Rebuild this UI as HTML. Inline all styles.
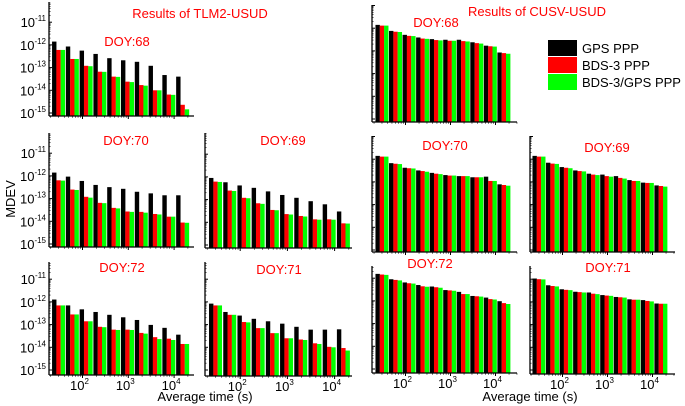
<!DOCTYPE html>
<html><head><meta charset="utf-8"><style>
html,body{margin:0;padding:0;background:#fff;}
svg{display:block;font-family:"Liberation Sans",Arial,sans-serif;}
</style></head><body>
<svg id="fig" width="685" height="406" viewBox="0 0 685 406" xmlns="http://www.w3.org/2000/svg">
<text x="200" y="18" font-size="13" fill="#f00" text-anchor="middle">Results of TLM2-USUD</text>
<text x="537" y="16" font-size="13" fill="#f00" text-anchor="middle">Results of CUSV-USUD</text>
<text transform="translate(15,199) rotate(-90)" font-size="13" text-anchor="middle">MDEV</text>
<text x="205" y="401" font-size="13" text-anchor="middle">Average time (s)</text>
<text x="530" y="401" font-size="13" text-anchor="middle">Average time (s)</text>
<g>
<rect x="548" y="40" width="29" height="16" fill="#000"/>
<rect x="548" y="57" width="29" height="16" fill="#f00"/>
<rect x="548" y="74" width="29" height="16" fill="#0f0"/>
<text x="582" y="53" font-size="13">GPS PPP</text>
<text x="582" y="70" font-size="13">BDS-3 PPP</text>
<text x="582" y="87" font-size="13">BDS-3/GPS PPP</text>
</g>
</svg>
<script>
const taus=[30,60,120,240,480,960,1920,3840,7680,15360];
const xTickLabels=["2","3","4"];
const yTickExps=["-11","-12","-13","-14","-15"];
const seriesColors=["#000","#f00","#0f0"];
// values per panel: GPS, BDS-3, BDS-3/GPS
const tlm68Gps=[1.4e-12,8.5e-13,5.6e-13,4e-13,2.6e-13,2.1e-13,1.8e-13,1.2e-13,4.7e-14,4e-14];
const tlm68Bds=[6e-13,2.4e-13,1.2e-13,6.6e-14,4e-14,2.4e-14,1.7e-14,1e-14,6.5e-15,2.3e-15];
const tlm68Mix=[6e-13,2.4e-13,1.15e-13,6.5e-14,3.9e-14,2.3e-14,1.6e-14,1e-14,6.3e-15,1.45e-15];
const tlm70Gps=[1.4e-12,9.3e-13,6e-13,4e-13,3.2e-13,2.7e-13,2e-13,1.7e-13,1.4e-13,1.4e-13];
const tlm70Bds=[6.4e-13,2.5e-13,1.2e-13,6.5e-14,3.9e-14,2.7e-14,2.6e-14,2.1e-14,1.6e-14,8.8e-15];
const tlm70Mix=[6.2e-13,2.4e-13,1.1e-13,6.3e-14,3.7e-14,2.6e-14,2.4e-14,2e-14,1.6e-14,8.6e-15];
const tlm69Gps=[9e-13,5.8e-13,4.2e-13,3.3e-13,2.3e-13,1.6e-13,1.2e-13,8.5e-14,6.2e-14,3e-14];
const tlm69Bds=[6.2e-13,2.5e-13,1.2e-13,6.9e-14,3.5e-14,2.3e-14,1.9e-14,1.35e-14,1.35e-14,9e-15];
const tlm69Mix=[6e-13,2.4e-13,1.15e-13,6.5e-14,3.4e-14,2.2e-14,1.8e-14,1.3e-14,1.3e-14,8.8e-15];
const tlm72Gps=[1.27e-12,7e-13,4.7e-13,3.6e-13,2.7e-13,2.1e-13,1.6e-13,9.7e-14,7.2e-14,3.6e-14];
const tlm72Bds=[7e-13,2.8e-13,1.4e-13,8e-14,6e-14,6e-14,4.3e-14,2.8e-14,2.4e-14,1.4e-14];
const tlm72Mix=[7e-13,2.8e-13,1.4e-13,7.7e-14,5.8e-14,5.8e-14,4e-14,2.3e-14,2.1e-14,1.4e-14];
const tlm71Gps=[8.4e-13,3.6e-13,2.5e-13,1.8e-13,1.4e-13,1.1e-13,8e-14,6e-14,6e-14,6.2e-14];
const tlm71Bds=[7e-13,2.7e-13,1.3e-13,7e-14,4.2e-14,2.5e-14,2.2e-14,1.5e-14,1.05e-14,9.3e-15];
const tlm71Mix=[7e-13,2.7e-13,1.25e-13,7e-14,4.2e-14,2.5e-14,2.1e-14,1.4e-14,1e-14,7.2e-15];
const cus68Gps=[1.4e-11,7.6e-12,5.1e-12,3.9e-12,3.3e-12,3.1e-12,3.1e-12,2.4e-12,1.7e-12,8.5e-13];
const cus68Bds=[1.3e-11,7e-12,4.6e-12,3.5e-12,3e-12,2.8e-12,2.7e-12,2.2e-12,1.6e-12,8e-13];
const cus68Mix=[1.3e-11,6.8e-12,4.5e-12,3.4e-12,2.9e-12,2.8e-12,2.6e-12,2.1e-12,1.55e-12,7.5e-13];
const cus70Gps=[1.4e-11,6.7e-12,4.2e-12,3.2e-12,2.5e-12,2e-12,1.8e-12,1.6e-12,1.7e-12,7.8e-13];
const cus70Bds=[1.3e-11,6.3e-12,4e-12,3e-12,2.3e-12,1.9e-12,1.8e-12,1.6e-12,1.1e-12,7.3e-13];
const cus70Mix=[1.3e-11,6.1e-12,3.9e-12,2.8e-12,2.2e-12,1.9e-12,1.8e-12,1.6e-12,1.1e-12,6.8e-13];
const cus69Gps=[1.4e-11,7e-12,4.5e-12,3.2e-12,2.3e-12,2.1e-12,1.8e-12,1.2e-12,9.3e-13,7e-13];
const cus69Bds=[1.3e-11,6.4e-12,4.2e-12,3e-12,2.1e-12,1.8e-12,1.5e-12,1.1e-12,9e-13,6.6e-13];
const cus69Mix=[1.3e-11,6.2e-12,4e-12,2.9e-12,2e-12,1.7e-12,1.4e-12,1.1e-12,9e-13,6.2e-13];
const cus72Gps=[1.55e-11,9e-12,6.5e-12,5e-12,4.3e-12,3e-12,2.5e-12,1.65e-12,1.4e-12,9.7e-13];
const cus72Bds=[1.45e-11,8.4e-12,6e-12,4.4e-12,4e-12,2.9e-12,2e-12,1.6e-12,1.2e-12,8e-13];
const cus72Mix=[1.4e-11,8e-12,5.8e-12,4.2e-12,3.8e-12,2.8e-12,2e-12,1.55e-12,1.15e-12,7.3e-13];
const cus71Gps=[1.07e-11,5.4e-12,3.6e-12,2.8e-12,2.6e-12,2e-12,1.65e-12,1.3e-12,1.2e-12,8.5e-13];
const cus71Bds=[1e-11,5e-12,3.4e-12,2.7e-12,2.3e-12,1.9e-12,1.6e-12,1.25e-12,1.1e-12,8.3e-13];
const cus71Mix=[9.8e-12,4.8e-12,3.3e-12,2.6e-12,2.2e-12,1.85e-12,1.55e-12,1.25e-12,1.05e-12,8.3e-13];

const panels=[
 {id:"tlm-doy68",label:"DOY:68",lx:127,ly:46,x0:49,x1:194,x100:82.5,dec:45.8,y15:113,axisY:116,top:2,yl:true,xl:false,s:[tlm68Gps,tlm68Bds,tlm68Mix]},
 {id:"tlm-doy70",label:"DOY:70",lx:126,ly:145,x0:49,x1:194,x100:82.5,dec:45.8,y15:244,axisY:247,top:133,yl:true,xl:false,s:[tlm70Gps,tlm70Bds,tlm70Mix]},
 {id:"tlm-doy69",label:"DOY:69",lx:283,ly:145,x0:205,x1:352,x100:240.2,dec:47.2,y15:245,axisY:248,top:133,yl:false,xl:false,s:[tlm69Gps,tlm69Bds,tlm69Mix]},
 {id:"tlm-doy72",label:"DOY:72",lx:122,ly:272,x0:49,x1:194,x100:82.5,dec:45.8,y15:370,axisY:375,top:262,yl:true,xl:true,s:[tlm72Gps,tlm72Bds,tlm72Mix]},
 {id:"tlm-doy71",label:"DOY:71",lx:279,ly:274,x0:205,x1:352,x100:240.2,dec:47.2,y15:370,axisY:376,top:262,yl:false,xl:true,s:[tlm71Gps,tlm71Bds,tlm71Mix]},
 {id:"cusv-doy68",label:"DOY:68",lx:436,ly:27,x0:372,x1:517,x100:405.5,dec:45,y15:119,axisY:122,top:5,yl:false,xl:false,s:[cus68Gps,cus68Bds,cus68Mix]},
 {id:"cusv-doy70",label:"DOY:70",lx:445,ly:150,x0:372,x1:517,x100:405.5,dec:45,y15:250,axisY:252,top:136,yl:false,xl:false,s:[cus70Gps,cus70Bds,cus70Mix]},
 {id:"cusv-doy69",label:"DOY:69",lx:607,ly:152,x0:530,x1:675,x100:562.5,dec:45,y15:250,axisY:252,top:136,yl:false,xl:false,s:[cus69Gps,cus69Bds,cus69Mix]},
 {id:"cusv-doy72",label:"DOY:72",lx:430,ly:268,x0:372,x1:517,x100:405.5,dec:45,y15:369,axisY:373,top:266,yl:false,xl:true,s:[cus72Gps,cus72Bds,cus72Mix]},
 {id:"cusv-doy71",label:"DOY:71",lx:608,ly:272,x0:530,x1:675,x100:562.5,dec:45,y15:370,axisY:374,top:266,yl:false,xl:true,s:[cus71Gps,cus71Bds,cus71Mix]}
];
const NS="http://www.w3.org/2000/svg";
const svg=document.getElementById("fig");
function mk(tag,attrs,parent){const e=document.createElementNS(NS,tag);for(const k in attrs)e.setAttribute(k,attrs[k]);parent.appendChild(e);return e;}
const YDEC=22.7;
panels.forEach(p=>{
 const g=mk("g",{},svg);
 
 
 const xs=t=>p.x100+(Math.log10(t)-2)*p.dec;
 const ys=v=>p.y15-(Math.log10(v)+15)*YDEC;
 const offs=[-6.5,-2.2,2.1];
 p.s.forEach((ser,si)=>{
  ser.forEach((v,i)=>{
   const cx=xs(taus[i]);const yt=ys(v);
   const r=mk("rect",{x:(cx+offs[si]).toFixed(2),y:yt.toFixed(2),width:4.4,height:Math.max(0,p.axisY-yt).toFixed(2),fill:seriesColors[si]},g);
   
   
  });
 });
 // axes
 const ya=mk("line",{x1:p.x0,y1:p.top,x2:p.x0,y2:p.axisY,stroke:"#000","stroke-width":1.3},g);
 
 
 const xa=mk("line",{x1:p.x0,y1:p.axisY,x2:p.x1,y2:p.axisY,stroke:"#000","stroke-width":1.3},g);
 
 
 // y ticks
 for(let e=-15;e<=-10;e++){
  const y=ys(Math.pow(10,e));
  if(y>=p.top-1&&y<=p.axisY){mk("line",{x1:p.x0,y1:y,x2:p.x0+3,y2:y,stroke:"#000","stroke-width":1},g);}
  for(let m=2;m<10;m++){const ym=ys(m*Math.pow(10,e));if(ym>=p.top&&ym<=p.axisY)mk("line",{x1:p.x0,y1:ym,x2:p.x0+1.6,y2:ym,stroke:"#000","stroke-width":0.6},g);}
 }
 if(p.yl){
  yTickExps.forEach(ex=>{
   const y=ys(Math.pow(10,+ex));
   const t=mk("text",{x:p.x0-3,y:y+5,"font-size":13,"text-anchor":"end"},g);
   
   
   t.textContent="10";
   const sp=mk("tspan",{"font-size":8,dy:-6},t);sp.textContent=ex;
  });
 }
 // x ticks
 for(let e=1;e<=5;e++){
  for(let m=1;m<10;m++){const x=xs(m*Math.pow(10,e));if(x<p.x0||x>p.x1)continue;
   mk("line",{x1:x,y1:p.axisY,x2:x,y2:p.axisY+(m==1?3:1.8),stroke:"#000","stroke-width":m==1?1:0.6},g);}
 }
 if(p.xl){
  xTickLabels.forEach(ex=>{
   const x=xs(Math.pow(10,+ex));
   const t=mk("text",{x:x-3,y:p.axisY+15,"font-size":13,"text-anchor":"middle"},g);
   
   
   t.textContent="10";
   const sp=mk("tspan",{"font-size":8,dy:-6},t);sp.textContent=ex;
  });
 }
 const lb=mk("text",{x:p.lx,y:p.ly,"font-size":13,fill:"#f00","text-anchor":"middle"},g);
 
 
 lb.textContent=p.label;
});
</script>
</body></html>
